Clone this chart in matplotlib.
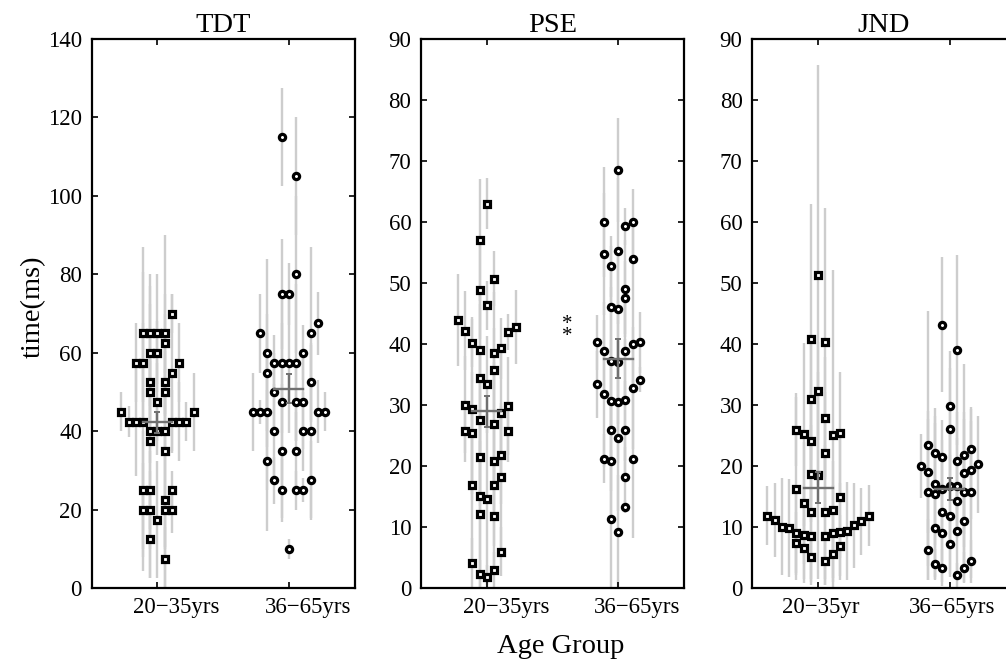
import numpy as np
import matplotlib
matplotlib.use("Agg")
import matplotlib.pyplot as plt
import matplotlib.transforms as mtransforms

plt.rcParams['font.family'] = ['Liberation Serif', 'DejaVu Serif']

# ---- data: (slot offset k, value, error half-length) ----
# TDT, 20-35yrs
tdt_young_k = [-5, 5, -4, -3, -2, 2, 3, 4, -1, 0, 1, -1, 1, 0, -1, 1, -1, 1, 2,
               -3, -2, 3, -1, 0, 1, -2, -1, 0, 1, 2, -2, -1, 2, 1, -2, -1, 1, 2,
               0, -1, 1]
tdt_young_y = [45, 45, 42.5, 42.5, 42.5, 42.5, 42.5, 42.5, 40, 40, 40, 37.5, 35,
               47.5, 50, 50, 52.5, 52.5, 55, 57.5, 57.5, 57.5, 60, 60, 62.5, 65,
               65, 65, 65, 70, 25, 25, 25, 22.5, 20, 20, 20, 20, 17.5, 12.5, 7.5]
tdt_young_err = [5, 10, 4, 14, 38, 8, 10, 5, 8, 6, 10, 35, 35, 10, 8, 6, 6, 8, 20,
                 10, 10, 10, 20, 8, 27.5, 22, 12, 15, 10, 5, 15, 10, 5, 12, 12,
                 10, 10, 6, 15, 10, 8]

# TDT, 36-65yrs
tdt_old_k = [-1, 1, 1, -1, 0, -4, 3, 4, -3, 2, -2, -1, 0, 1, -3, 3, -2, -1, 1, 2,
             -5, -4, -3, 4, 5, -2, 2, 3, -1, 1, -3, -2, 3, -1, 1, 2, 0]
tdt_old_y = [115, 105, 80, 75, 75, 65, 65, 67.5, 60, 60, 57.5, 57.5, 57.5, 57.5,
             55, 52.5, 50, 47.5, 47.5, 47.5, 45, 45, 45, 45, 45, 40, 40, 40, 35,
             35, 32.5, 27.5, 27.5, 25, 25, 25, 10]
tdt_old_err = [12.5, 15, 20, 14, 8, 10, 22, 8, 24, 7, 7, 18, 18, 20, 15, 10, 10,
               20, 10, 12, 10, 3, 20, 8, 5, 12, 10, 22, 17, 10, 18, 6, 10, 8, 5,
               3, 2.5]

# PSE, 20-35yrs
pse_young_k = [-4, -3, -3, -3, -2, -2, -2, -2, -2, -1, -1, -1, -1, -1, -1, -1, -1,
               -1, 0, 0, 0, 0, 0, 1, 1, 1, 1, 1, 1, 1, 1, 2, 2, 2, 2, 2, 3, 3, 3, 4]
pse_young_y = [44, 42.2, 30.1, 25.7, 40.2, 29.4, 25.4, 17, 4.2, 57, 48.8, 39, 34.5,
               27.5, 21.5, 15.2, 12.2, 2.3, 63, 46.4, 33.4, 14.6, 1.9, 50.7, 38.5,
               35.7, 27, 20.9, 17, 11.9, 3, 39.3, 28.7, 21.8, 18.3, 6, 42, 29.9,
               25.7, 42.8]
pse_young_err = [7.5, 6.5, 8, 5, 4, 15, 10, 12, 4, 10, 8, 10, 12, 12, 8, 12, 12,
                 2.3, 4.2, 4, 8, 14, 1.9, 4.5, 10, 7, 10, 8, 10, 9, 3, 5, 10, 8,
                 12, 4, 3, 8, 5, 6]

# PSE, 36-65yrs
pse_old_k = [-3, -3, -2, -2, -2, -2, -2, -1, -1, -1, -1, -1, -1, -1, 0, 0, 0, 0, 0,
             0, 0, 1, 1, 1, 1, 1, 1, 1, 1, 2, 2, 2, 2, 2, 3, 3]
pse_old_y = [40.3, 33.4, 60, 54.8, 38.9, 31.9, 21.2, 52.8, 46.1, 37.3, 30.7, 26,
             20.8, 11.3, 68.5, 55.3, 45.7, 37, 30.6, 24.7, 9.3, 59.3, 49.1, 47.6,
             38.8, 30.9, 26, 18.2, 13.4, 60, 54, 40.1, 32.8, 21.2, 40.3, 34.2]
pse_old_err = [4.5, 5.5, 9, 10, 8, 12, 4, 5, 10, 12, 10, 10, 10, 11.3, 8.5, 12,
               10, 10, 10, 12, 9.3, 3, 8, 6, 8, 10, 8, 5, 1, 5.5, 6, 8, 10, 13, 5, 2]

# JND, 20-35yr
jnd_young_k = [0, 0, 0, -1, -1, -1, -1, -1, -1, -1, 1, 1, 1, 1, 1, 1, 2, 2, 2, 2,
               3, 3, 3, 3, -2, -2, -2, -2, -3, -3, -3, -3, -4, -5, -6, -7, 4, 5, 6, 7]
jnd_young_y = [51.3, 32.3, 18.5, 40.9, 31, 24.2, 18.8, 12.5, 8.5, 5.1, 40.3, 27.9,
               22.1, 12.5, 8.5, 4.5, 25.1, 12.8, 9, 5.7, 25.5, 15, 9.3, 7, 25.2,
               13.9, 8.8, 6.6, 26, 16.3, 9.1, 7.5, 9.9, 10.1, 11.2, 11.9, 9.4,
               10.3, 11, 11.9]
jnd_young_err = [34.4, 8, 17, 22, 10, 10, 8, 11, 8, 4, 22, 10, 10, 11, 8, 4, 27, 8,
                 8, 4, 10, 10, 8, 5, 15, 10, 8, 5, 6, 15, 7, 5, 8, 8, 6, 4.8, 8, 7,
                 5.5, 5]

# JND, 36-65yrs
jnd_old_k = [-1, -1, -1, -1, -1, -1, 1, 1, 1, 1, 1, 1, 0, 0, 0, 0, 0, -3, -3, -3,
             -3, -2, -2, -2, -2, -2, 2, 2, 2, 2, 2, 3, 3, 3, 3, -4, 4]
jnd_old_y = [43.2, 21.5, 16.3, 12.5, 9.1, 3.4, 39, 20.9, 16.7, 14.3, 9.4, 2.2,
             29.9, 26.1, 16.7, 11.9, 7.3, 23.4, 19.1, 15.7, 6.3, 22.2, 17.1, 15.5,
             9.9, 3.9, 21.8, 18.9, 15.7, 11, 3.4, 22.8, 19.4, 15.7, 4.4, 20, 20.3]
jnd_old_err = [11, 6, 8, 8, 8, 3, 15.6, 8, 8, 6, 8, 2, 9, 10, 10, 10, 5, 22, 10, 12,
               5, 6, 10, 14, 8, 2.5, 15, 10, 12, 10, 2.5, 6.5, 8, 14, 3.5, 5.2, 8]

# group means and their error (grey crosses)
tdt_mean = [42.3, 50.9]
tdt_sem = [2.7, 3.8]
pse_mean = [29.0, 37.6]
pse_sem = [2.5, 3.2]
jnd_mean = [16.5, 16.3]
jnd_sem = [2.5, 1.8]

titles = ['TDT', 'PSE', 'JND']
ylims = [140, 90, 90]
ystep = [20, 10, 10]
xlabels = [['20\u221235yrs', '36\u221265yrs'],
           ['20\u221235yrs', '36\u221265yrs'],
           ['20\u221235yr', '36\u221265yrs']]
label_shift = [19, 19, 3]   # px, tick labels sit right of the ticks

step = 0.055
light = '#cdcdcd'
dark = '#707070'


def draw_group(ax, x0, k, y, err, marker, ms, mean, sem):
    x = x0 + np.array(k) * step
    ax.errorbar(x, y, yerr=err, fmt='none', ecolor=light, elinewidth=1.7,
                capsize=0, zorder=1)
    ax.plot(x, y, linestyle='none', marker=marker, ms=ms, mfc='white',
            mec='black', mew=2.3, zorder=3)
    ax.plot([x0 - 0.11, x0 + 0.11], [mean, mean], color=dark, lw=1.7, zorder=4)
    ax.errorbar([x0], [mean], yerr=[sem], fmt='none', ecolor=dark,
                elinewidth=1.7, capsize=2.5, capthick=1.4, zorder=4)


fig = plt.figure(figsize=(10.06, 6.64), dpi=100)
W, H = 1006.0, 664.0
lefts = [91.7, 421.0, 752.3]
axes = []
for i in range(3):
    ax = fig.add_axes([lefts[i] / W, (H - 588.3) / H, 263 / W, (588.3 - 39) / H])
    axes.append(ax)

panels = [
    (tdt_young_k, tdt_young_y, tdt_young_err, tdt_old_k, tdt_old_y, tdt_old_err,
     tdt_mean, tdt_sem),
    (pse_young_k, pse_young_y, pse_young_err, pse_old_k, pse_old_y, pse_old_err,
     pse_mean, pse_sem),
    (jnd_young_k, jnd_young_y, jnd_young_err, jnd_old_k, jnd_old_y, jnd_old_err,
     jnd_mean, jnd_sem),
]

for i, ax in enumerate(axes):
    yk, yy, ye, ok, oy, oe, m, s = panels[i]
    draw_group(ax, 1, yk, yy, ye, 's', 3.8, m[0], s[0])
    draw_group(ax, 2, ok, oy, oe, 'o', 4.5, m[1], s[1])

    ax.set_xlim(0.5, 2.5)
    ax.set_ylim(0, ylims[i])
    ax.set_yticks(np.arange(0, ylims[i] + 1, ystep[i]))
    ax.set_xticks([1, 2])
    ax.set_xticklabels(xlabels[i])
    ax.tick_params(direction='in', length=4, width=1.2, top=True, right=True,
                   labelsize=16.5, pad=7)
    ax.tick_params(axis='x', pad=6)
    for sp in ax.spines.values():
        sp.set_linewidth(1.6)
    ax.set_title(titles[i], fontsize=20.5, pad=5)
    off = mtransforms.ScaledTranslation(label_shift[i] / 100.0, 0, fig.dpi_scale_trans)
    for lab in ax.get_xticklabels():
        lab.set_transform(lab.get_transform() + off)

# significance mark between the PSE groups (two stacked asterisks)
axes[1].text(1.61, 42.2, '*\n*', fontsize=15, ha='center', va='center',
             linespacing=0.5)

fig.text(33 / W, (H - 307) / H, 'time(ms)', rotation=90, fontsize=20.5,
         ha='center', va='center')
fig.text(561 / W, 11 / H, 'Age Group', fontsize=20.5, ha='center', va='baseline')

fig.savefig('out.png', dpi=100)
